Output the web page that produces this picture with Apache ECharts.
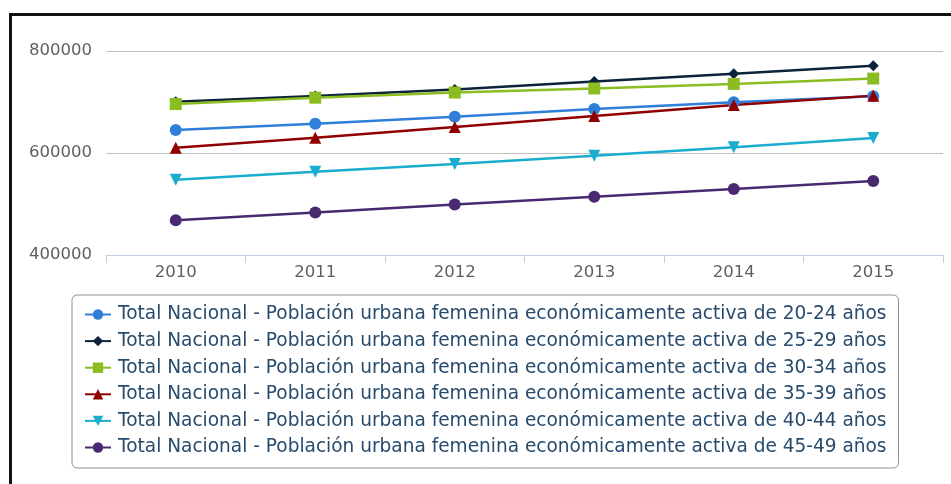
<!DOCTYPE html>
<html>
<head>
<meta charset="utf-8">
<script src="https://cdn.jsdelivr.net/npm/echarts@6/dist/echarts.min.js"></script>
<style>
    html, body { margin: 0; padding: 0; background: #fff; }
    #chart { position: absolute; left: 0; top: 0; width: 951px; height: 484px; }
    #frame { position: absolute; left: 9px; top: 13px; width: 960px; height: 490px;
             border-top: 3px solid #111; border-left: 3px solid #111; pointer-events: none; }
</style>
</head>
<body>
<div id="chart"></div>
<div id="frame"></div>
<script>
    const years = ["2010", "2011", "2012", "2013", "2014", "2015"];
    const prefix = "Total Nacional - Población urbana femenina económicamente activa de ";

    const age20_24 = [645000, 657500, 671000, 686500, 699500, 711500];
    const age25_29 = [700500, 712000, 724500, 740000, 755500, 771000];
    const age30_34 = [696000, 708500, 718500, 726500, 735500, 746000];
    const age35_39 = [610500, 630000, 651000, 672500, 694000, 712500];
    const age40_44 = [547500, 563000, 578500, 594500, 611500, 629500];
    const age45_49 = [468000, 483500, 499000, 514000, 529500, 545000];

    const chart = echarts.init(document.getElementById("chart"));

    function serie(name, data, color, symbol, size, rotate) {
        return {
            name: prefix + name,
            type: "line",
            data: data,
            symbol: symbol,
            symbolSize: size,
            symbolRotate: rotate || 0,
            lineStyle: { color: color, width: 2.5 },
            itemStyle: { color: color },
            animation: false
        };
    }

    chart.setOption({
        backgroundColor: "#fff",
        textStyle: { fontFamily: "DejaVu Sans" },
        grid: { left: 106, right: 8, top: 51, bottom: 229 },
        legend: {
            orient: "vertical",
            left: 72,
            top: 295,
            padding: [10, 12, 11, 12],
            itemGap: 7.6,
            itemWidth: 26,
            itemHeight: 13,
            borderColor: "#909090",
            borderWidth: 1,
            borderRadius: 5,
            textStyle: { color: "#274b6d", fontSize: 18.55, padding: [0, 0, 0, 2] }
        },
        xAxis: {
            type: "category",
            data: years,
            boundaryGap: true,
            axisLine: { lineStyle: { color: "#c0d0e0", width: 1 } },
            axisTick: { show: true, length: 8, lineStyle: { color: "#c0d0e0" } },
            axisLabel: { color: "#606060", fontSize: 16.5, margin: 9 }
        },
        yAxis: {
            type: "value",
            min: 400000,
            max: 800000,
            interval: 200000,
            axisLine: { show: false },
            axisTick: { show: false },
            axisLabel: { color: "#606060", fontSize: 16.5, margin: 14, formatter: v => String(v) },
            splitLine: { lineStyle: { color: "#c0c0c0", width: 1 } }
        },
        series: [
            serie("20-24 años", age20_24, "#2f7ed8", "circle", 12),
            serie("25-29 años", age25_29, "#0d233a", "diamond", 11),
            serie("30-34 años", age30_34, "#8bbc21", "rect", 12),
            serie("35-39 años", age35_39, "#910000", "triangle", 12),
            serie("40-44 años", age40_44, "#1aadce", "triangle", 12, 180),
            serie("45-49 años", age45_49, "#492970", "circle", 12)
        ]
    });

    window.addEventListener("resize", () => chart.resize());
</script>
</body>
</html>
